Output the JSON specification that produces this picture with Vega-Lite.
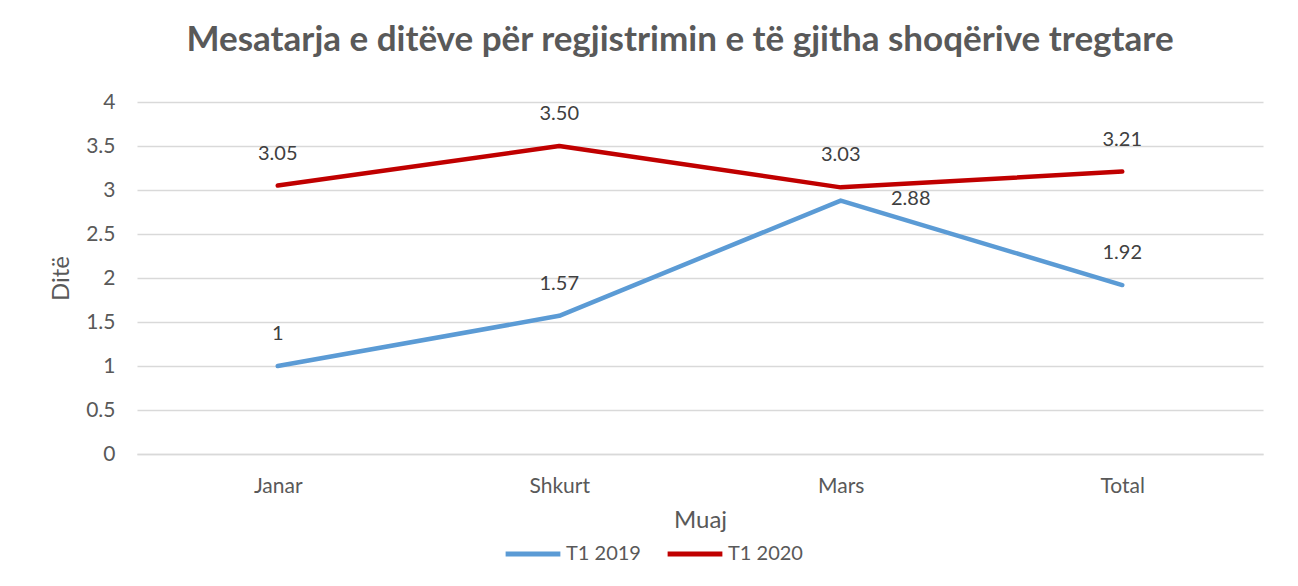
{
  "$schema": "https://vega.github.io/schema/vega-lite/v6.json",
  "width": 1126,
  "height": 352,
  "autosize": {"type": "none"},
  "padding": {"left": 137, "top": 102, "right": 35, "bottom": 132},
  "background": "white",
  "title": {
    "text": "Mesatarja e ditëve për regjistrimin e të gjitha shoqërive tregtare",
    "font": "Lato",
    "fontSize": 35,
    "fontWeight": "bold",
    "color": "#595959",
    "anchor": "middle",
    "dx": -20,
    "offset": 33
  },
  "config": {
    "view": {"stroke": null},
    "font": "Lato"
  },
  "data": {
    "values": [
      {"Muaj": "Janar", "Seria": "T1 2019", "Ditë": 1.0, "label": "1"},
      {"Muaj": "Shkurt", "Seria": "T1 2019", "Ditë": 1.57, "label": "1.57"},
      {"Muaj": "Mars", "Seria": "T1 2019", "Ditë": 2.88, "label": "2.88"},
      {"Muaj": "Total", "Seria": "T1 2019", "Ditë": 1.92, "label": "1.92"},
      {"Muaj": "Janar", "Seria": "T1 2020", "Ditë": 3.05, "label": "3.05"},
      {"Muaj": "Shkurt", "Seria": "T1 2020", "Ditë": 3.5, "label": "3.50"},
      {"Muaj": "Mars", "Seria": "T1 2020", "Ditë": 3.03, "label": "3.03"},
      {"Muaj": "Total", "Seria": "T1 2020", "Ditë": 3.21, "label": "3.21"}
    ]
  },
  "encoding": {
    "x": {
      "field": "Muaj",
      "type": "ordinal",
      "sort": ["Janar", "Shkurt", "Mars", "Total"],
      "scale": {"type": "point", "padding": 0.5},
      "axis": {
        "title": "Muaj",
        "labelAngle": 0,
        "labelFontSize": 21,
        "labelColor": "#595959",
        "labelPadding": 21,
        "titleFontSize": 24,
        "titleFontWeight": "normal",
        "titleColor": "#595959",
        "titlePadding": 12,
        "ticks": false,
        "domainColor": "#d9d9d9",
        "domainWidth": 1.5,
        "grid": false
      }
    },
    "y": {
      "field": "Ditë",
      "type": "quantitative",
      "scale": {"domain": [0, 4]},
      "axis": {
        "title": "Ditë",
        "format": "~g",
        "values": [0, 0.5, 1, 1.5, 2, 2.5, 3, 3.5, 4],
        "labelFontSize": 21,
        "labelColor": "#595959",
        "labelPadding": 22,
        "titleFontSize": 24,
        "titleFontWeight": "normal",
        "titleColor": "#595959",
        "titlePadding": 12,
        "ticks": false,
        "domain": false,
        "gridColor": "#d9d9d9",
        "gridWidth": 1.5
      }
    }
  },
  "layer": [
    {
      "mark": {"type": "line", "strokeWidth": 4.5, "strokeCap": "round", "strokeJoin": "round"},
      "encoding": {
        "color": {
          "field": "Seria",
          "type": "nominal",
          "scale": {"domain": ["T1 2019", "T1 2020"], "range": ["#5B9BD5", "#C00000"]},
          "legend": {
            "title": null,
            "orient": "none",
            "direction": "horizontal",
            "legendX": 366,
            "legendY": 422,
            "symbolType": "stroke",
            "symbolSize": 3000,
            "symbolStrokeWidth": 5,
            "labelFontSize": 20,
            "labelColor": "#595959",
            "labelOffset": 3,
            "columnPadding": 16
          }
        }
      }
    },
    {
      "transform": [{"filter": "!(datum.Muaj == 'Mars' && datum.Seria == 'T1 2019')"}],
      "mark": {"type": "text", "fontSize": 20, "color": "#404040", "dy": -32},
      "encoding": {"text": {"field": "label"}}
    },
    {
      "transform": [{"filter": "datum.Muaj == 'Mars' && datum.Seria == 'T1 2019'"}],
      "mark": {"type": "text", "fontSize": 20, "color": "#404040", "dx": 70, "dy": -2},
      "encoding": {"text": {"field": "label"}}
    }
  ]
}
